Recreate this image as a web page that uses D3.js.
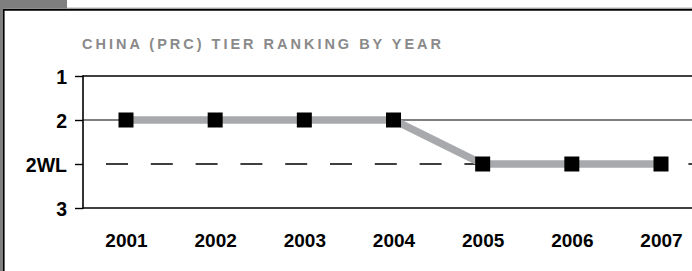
<!DOCTYPE html>
<html><head><meta charset="utf-8">
<script src="https://cdn.jsdelivr.net/npm/d3@7"></script>
<style>html,body{margin:0;padding:0;background:#fff;}svg{display:block;}</style>
</head><body>
<script>
const years = ["2001","2002","2003","2004","2005","2006","2007"];
const tiers = ["1","2","2WL","3"];
const ranking = ["2","2","2","2","2WL","2WL","2WL"];
const title = "CHINA (PRC) TIER RANKING BY YEAR";

const W = 692, H = 271;
const svg = d3.select("body").append("svg").attr("width", W).attr("height", H);

// frame decorations
svg.append("rect").attr("x",0).attr("y",0).attr("width",67).attr("height",8.5).attr("fill","#7f7f7f");
svg.append("rect").attr("x",0).attr("y",0).attr("width",3).attr("height",H).attr("fill","#7f7f7f");
svg.append("line").attr("x1",67).attr("x2",W).attr("y1",8).attr("y2",8).attr("stroke","#b5b5b5").attr("stroke-width",1);
svg.append("line").attr("x1",3).attr("x2",W).attr("y1",9.8).attr("y2",9.8).attr("stroke","#000").attr("stroke-width",2);
svg.append("line").attr("x1",3.8).attr("x2",3.8).attr("y1",9).attr("y2",H).attr("stroke","#000").attr("stroke-width",1.6);

// title
svg.append("text").attr("x",82).attr("y",48.5)
  .attr("textLength",359).attr("lengthAdjust","spacing")
  .style("font-family","'Liberation Sans', Arial, sans-serif").style("font-weight","bold")
  .style("font-size","14.5px").attr("fill","#8a8a8a").text(title);

const x = d3.scalePoint().domain(years).range([126, 661]);
const y = d3.scalePoint().domain(tiers).range([76, 208]);
const axisX = 83;

// horizontal reference lines
const solid = [{t:"1", w:1.5},{t:"2", w:1.1},{t:"3", w:1.6}];
svg.selectAll("line.ref").data(solid).join("line").attr("class","ref")
  .attr("x1", axisX).attr("x2", W).attr("y1", d=>y(d.t)).attr("y2", d=>y(d.t))
  .attr("stroke","#000").attr("stroke-width", d=>d.w);
svg.append("line").attr("x1",106).attr("x2",W).attr("y1",y("2WL")).attr("y2",y("2WL"))
  .attr("stroke","#000").attr("stroke-width",1.4).attr("stroke-dasharray","22,22.8");

// y axis
const yAxis = d3.axisLeft(y).tickSize(8).tickPadding(8);
const gy = svg.append("g").attr("transform",`translate(${axisX},0)`).call(yAxis);
gy.select(".domain").remove();
gy.selectAll(".tick line").attr("stroke","#000").attr("stroke-width",1.4);
gy.append("line").attr("x1",0).attr("x2",0).attr("y1",y("1")-0.7).attr("y2",y("3")+0.7).attr("stroke","#000").attr("stroke-width",1.6);
gy.selectAll(".tick text").attr("fill","#000")
  .style("font-family","'Liberation Sans', Arial, sans-serif").style("font-weight","bold")
  .style("font-size","19.5px").attr("dy","0.36em");

// x axis labels
const xAxis = d3.axisBottom(x).tickSize(0).tickPadding(0);
const gx = svg.append("g").attr("transform","translate(0,233)").call(xAxis);
gx.select(".domain").remove();
gx.selectAll(".tick text").attr("fill","#000").attr("dy","0.71em")
  .style("font-family","'Liberation Sans', Arial, sans-serif").style("font-weight","bold")
  .style("font-size","19px");

// line
const pts = years.map((yr,i)=>({yr, r: ranking[i]}));
svg.append("path").datum(pts)
  .attr("d", d3.line().x(d=>x(d.yr)).y(d=>y(d.r)))
  .attr("fill","none").attr("stroke","#a7a9ac").attr("stroke-width",7.5);

// markers
const s = 15;
svg.selectAll("rect.m").data(pts).join("rect").attr("class","m")
  .attr("x", d=>x(d.yr)-s/2).attr("y", d=>y(d.r)-s/2)
  .attr("width", s).attr("height", s).attr("fill","#000");
</script>
</body></html>
